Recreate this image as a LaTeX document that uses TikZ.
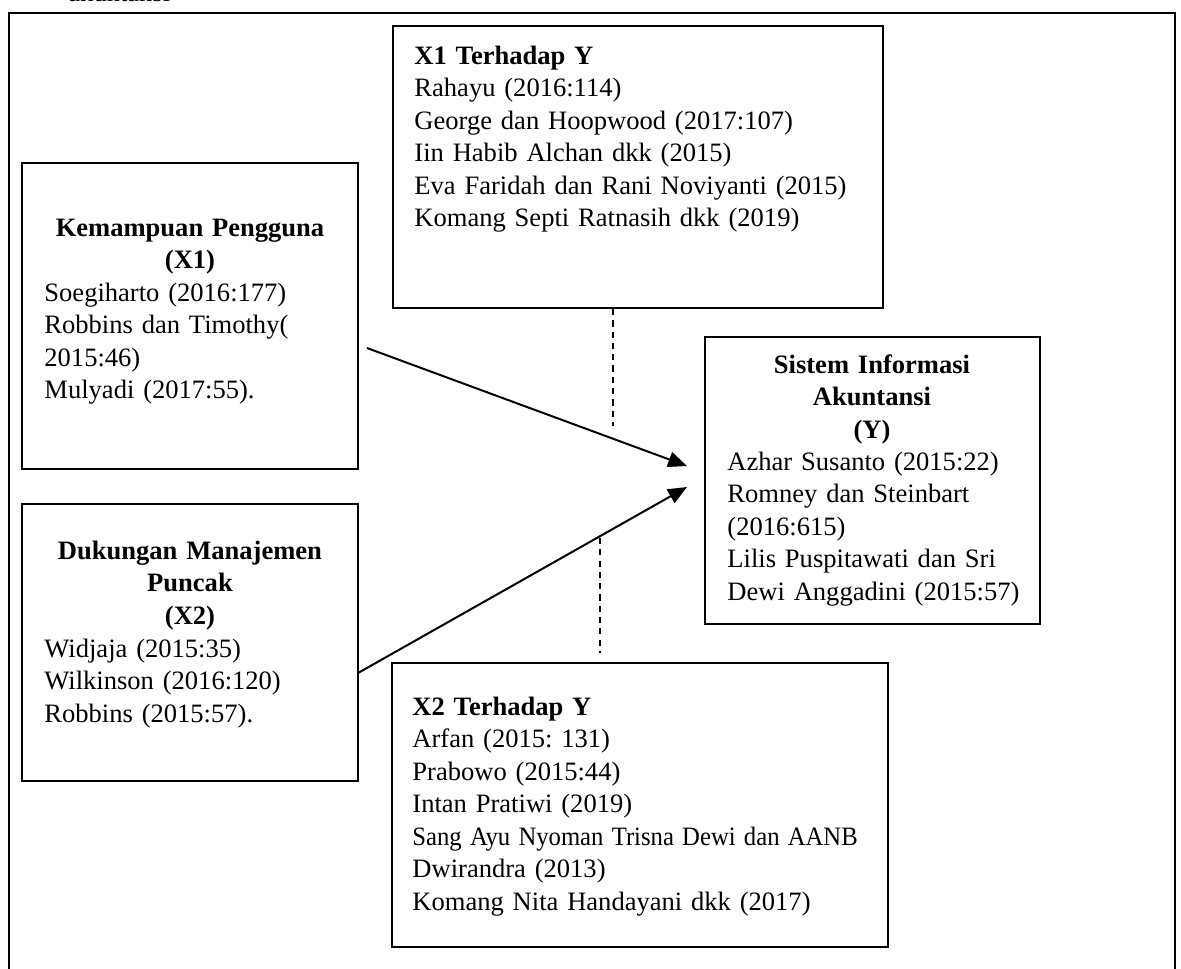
\documentclass[tikz,border=0pt]{standalone}
\usepackage{fontspec}
\setmainfont{Liberation Serif}
\usetikzlibrary{arrows.meta}
\frenchspacing
\begin{document}
\begin{tikzpicture}[x=0.452pt,y=-0.452pt,
  box/.style={draw,line width=0.9pt,inner sep=0pt},
  txt/.style={inner sep=0pt,text width=230pt,align=left,font=\fontsize{12}{14.7}\selectfont},
  head/.style={txt,text width=140pt,align=center,font=\fontsize{12}{14.7}\selectfont\bfseries},
  link/.style={line width=0.9pt,-{Triangle[length=8.5pt,width=7pt]}},
  dashline/.style={line width=0.7pt,dash pattern=on 2.8pt off 2.3pt}]
\useasboundingbox (0,0) rectangle (1181,968);
% caption (cut off) and outer frame
\node[txt,anchor=base west] (cap) at (68,1.5) {akuntansi};
\node[box,line width=1pt,minimum width=527pt,minimum height=450.6pt] (frame) at (592,511.5) {};
% X1
\node[box,minimum width=151.9pt,minimum height=138.3pt] (kem) at (190,316) {};
\node[head,anchor=base] (kemh) at (190,236) {Kemampuan Pengguna\\(X1)};
\node[txt,anchor=base west] (kemt) at (44,301) {Soegiharto (2016:177)\\Robbins dan Timothy(\\2015:46)\\Mulyadi (2017:55).};
% X2
\node[box,minimum width=151.9pt,minimum height=125.2pt] (duk) at (190,642.5) {};
\node[head,anchor=base] (dukh) at (190,559) {Dukungan Manajemen\\Puncak\\(X2)};
\node[txt,anchor=base west] (dukt) at (44,657) {Widjaja (2015:35)\\Wilkinson (2016:120)\\Robbins (2015:57).};
% X1 terhadap Y
\node[box,minimum width=221.5pt,minimum height=127.5pt] (x1y) at (638,167) {};
\node[txt,anchor=base west] (x1yt) at (414,64) {\textbf{X1 Terhadap Y}\\Rahayu (2016:114)\\George dan Hoopwood (2017:107)\\Iin Habib Alchan dkk (2015)\\Eva Faridah dan Rani Noviyanti (2015)\\Komang Septi Ratnasih dkk (2019)};
% Y
\node[box,minimum width=151.4pt,minimum height=129.7pt] (sia) at (872.5,480.5) {};
\node[head,anchor=base] (siah) at (872,373) {Sistem Informasi\\Akuntansi\\(Y)};
\node[txt,anchor=base west] (siat) at (727,470) {Azhar Susanto (2015:22)\\Romney dan Steinbart\\(2016:615)\\Lilis Puspitawati dan Sri\\Dewi Anggadini (2015:57)};
% X2 terhadap Y
\node[box,minimum width=224.2pt,minimum height=128.4pt] (x2y) at (640,805) {};
\node[txt,anchor=base west] (x2yt) at (412,715) {\textbf{X2 Terhadap Y}\\Arfan (2015: 131)\\Prabowo (2015:44)\\Intan Pratiwi (2019)\\\scalebox{0.93}[1]{Sang Ayu Nyoman Trisna Dewi dan AANB}\\Dwirandra (2013)\\Komang Nita Handayani dkk (2017)};
% arrows
\coordinate (p1) at (367,348);
\coordinate (q1) at (687,466);
\coordinate (p2) at (358,673);
\coordinate (q2) at (687,487);
\draw[link] (p1) -- (q1);
\draw[link] (p2) -- (q2);
% dashed links
\coordinate (d1) at (613,426);
\coordinate (d2) at (600,538);
\draw[dashline] (x1y.south -| d1) -- (d1);
\draw[dashline,shorten >=4pt] (d2) -- (d2 |- x2y.north);
\end{tikzpicture}
\end{document}
